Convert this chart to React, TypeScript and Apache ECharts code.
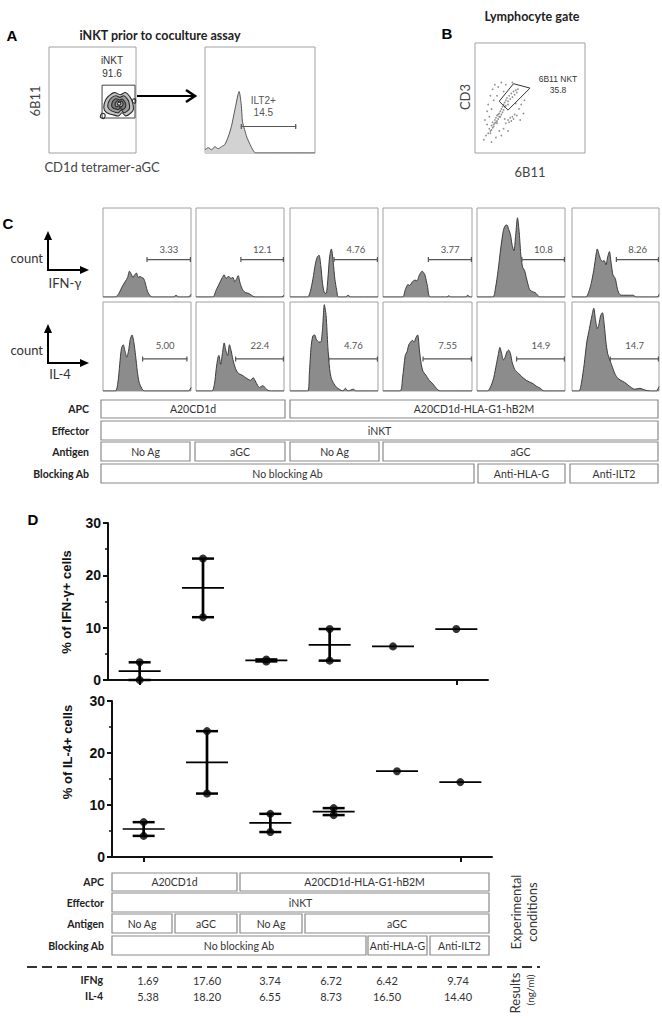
import React, { useEffect, useRef } from 'react';
import * as echarts from 'echarts';

// ===================== DATA =====================
// Panel D: replicate values (% positive cells) per condition
const conditions = [
  'A20CD1d / No Ag',
  'A20CD1d / aGC',
  'A20CD1d-HLA-G1-hB2M / No Ag',
  'A20CD1d-HLA-G1-hB2M / aGC',
  'A20CD1d-HLA-G1-hB2M / aGC / Anti-HLA-G',
  'A20CD1d-HLA-G1-hB2M / aGC / Anti-ILT2',
];
const ifnRep1: (number | null)[] = [3.38, 23.2, 3.55, 9.74, 6.42, 9.74];
const ifnRep2: (number | null)[] = [0.0, 12.0, 3.93, 3.7, null, null];
const il4Rep1: (number | null)[] = [6.7, 24.2, 8.3, 9.4, 16.5, 14.4];
const il4Rep2: (number | null)[] = [4.06, 12.2, 4.8, 8.06, null, null];
const yAxisMin = 0;
const yAxisMax = 30;
const yAxisStep = 10;

// Panel D results table
const ifngResults = ['1.69', '17.60', '3.74', '6.72', '6.42', '9.74'];
const il4Results = ['5.38', '18.20', '6.55', '8.73', '16.50', '14.40'];

// Condition tables (text, first column, last column)
const tableLabels = ['APC', 'Effector', 'Antigen', 'Blocking Ab'];
const apcCells: [string, number, number][] = [['A20CD1d', 0, 1], ['A20CD1d-HLA-G1-hB2M', 2, 5]];
const effectorCells: [string, number, number][] = [['iNKT', 0, 5]];
const antigenCells: [string, number, number][] = [['No Ag', 0, 0], ['aGC', 1, 1], ['No Ag', 2, 2], ['aGC', 3, 5]];
const blockingCells: [string, number, number][] = [['No blocking Ab', 0, 3], ['Anti-HLA-G', 4, 4], ['Anti-ILT2', 5, 5]];

// Panel C histograms: [x (% of range), y (% of max count)]
const ifnHist1 = [[0,0],[14,0],[18,4],[22,12],[25,17],[28,22],[30,29],[32,26],[34,22],[36,25],[38,27],[40,22],[42,23],[44,22],[46,21],[48,16],[50,8],[53,2],[56,0],[80,0],[83,2],[86,0],[97,0],[100,3]];
const ifnHist2 = [[0,0],[19,0],[23,8],[27,16],[30,22],[32,25],[34,21],[37,23],[40,21],[42,22],[44,17],[46,20],[48,24],[50,16],[53,8],[56,5],[60,4],[63,2],[67,0],[97,0],[100,2]];
const ifnHist3 = [[0,0],[20,0],[23,6],[26,20],[29,38],[31,45],[33,47],[35,35],[37,15],[39,5],[41,4],[43,20],[45,45],[47,54],[49,40],[51,20],[53,8],[55,0],[63,0],[66,2],[69,0],[100,0]];
const ifnHist4 = [[0,0],[22,0],[25,8],[28,14],[30,13],[33,17],[36,19],[38,18],[41,25],[44,29],[47,25],[50,12],[53,0],[72,0],[74,1.5],[76,0],[93,0],[95,2],[98,0],[100,0]];
const ifnHist5 = [[0,0],[18,0],[21,10],[24,30],[27,55],[30,75],[32,80],[34,81],[36,76],[38,70],[40,58],[42,52],[44,70],[46,89],[48,72],[50,45],[52,33],[54,30],[56,22],[58,14],[60,8],[63,6],[66,5],[69,2],[71,0],[100,0]];
const ifnHist6 = [[0,0],[16,0],[19,5],[22,15],[25,30],[28,50],[29,54],[31,48],[33,42],[35,40],[37,41],[39,36],[41,45],[43,51],[45,38],[47,25],[49,22],[50,20],[52,10],[54,4],[57,2],[62,2],[70,2],[74,0],[98,0],[100,3]];
const il4Hist1 = [[0,0],[14,0],[17,10],[19,30],[21,48],[23,52],[25,45],[27,38],[29,45],[31,58],[33,63],[35,55],[37,40],[39,22],[41,10],[44,3],[47,0],[97,0],[100,4]];
const il4Hist2 = [[0,0],[18,0],[21,8],[23,25],[25,38],[26,40],[28,30],[30,42],[32,54],[34,45],[36,40],[38,52],[40,45],[42,35],[45,25],[48,20],[52,18],[55,16],[58,14],[62,12],[65,15],[68,10],[72,4],[76,6],[80,2],[84,0],[100,0]];
const il4Hist3 = [[0,0],[20,0],[22,20],[24,50],[26,62],[28,63],[30,58],[33,55],[35,55],[37,70],[39,97],[41,85],[43,50],[45,25],[47,14],[50,8],[53,4],[56,2],[60,0],[63,3],[66,0],[72,2],[75,0],[100,0]];
const il4Hist4 = [[0,0],[19,0],[22,15],[25,40],[27,44],[29,52],[31,55],[33,57],[35,55],[37,60],[39,63],[41,45],[43,30],[45,22],[48,18],[52,12],[56,8],[60,3],[64,0],[100,0]];
const il4Hist5 = [[0,0],[12,0],[16,6],[19,15],[22,30],[24,40],[26,49],[28,42],[30,35],[32,38],[34,44],[36,46],[38,42],[40,32],[43,24],[47,20],[51,16],[56,12],[60,10],[64,8],[68,5],[72,3],[76,0],[100,0]];
const il4Hist6 = [[0,0],[8,0],[11,10],[14,30],[17,55],[20,70],[23,85],[25,93],[27,80],[29,70],[31,75],[33,85],[35,88],[37,75],[39,55],[41,42],[43,36],[46,28],[49,20],[52,15],[56,12],[60,10],[64,7],[68,4],[72,2],[78,3],[84,1],[90,0],[97,0],[100,5]];
const ifnGateLabels = ['3.33', '12.1', '4.76', '3.77', '10.8', '8.26'];
const il4GateLabels = ['5.00', '22.4', '4.76', '7.55', '14.9', '14.7'];
const ifnGateStart = [50, 51, 50, 51, 51, 51];
const ifnGateEnd = [100, 100, 100, 100, 100, 100];
const il4GateStart = [45, 45, 44, 45, 45, 44];
const il4GateEnd = [96, 100, 100, 100, 100, 100];
const ifnGateLevel = 42;
const il4GateLevel = 36;

// Panel A: ILT2 histogram and iNKT contour plot
const ilt2Hist = [[0,3],[3,5],[6,3],[9,6],[12,4],[15,6],[18,8],[21,15],[24,25],[26,35],[28,45],[30,55],[31,58],[33,45],[34,30],[36,22],[38,15],[41,8],[44,2],[46,0],[100,0]];
const ilt2Gate = { x1: 33, x2: 83, y: 25, label: 'ILT2+\n14.5' };
const inktGate = [61, 33, 100, 64];
const contourOuter = [[63,43],[65,50],[69,54],[75,57],[82,55],[88,57],[93,53],[96,48],[97,41],[93,37],[88,35],[84,38],[80,35],[74,36],[69,37],[65,39]];
const contourMid = [[67.5,44.5],[69,49],[72.5,52.5],[77,54],[81.5,52.5],[86,54],[90,51],[92,47.5],[92.5,42],[89,39],[86,38],[83,40.5],[80,38],[76,38.5],[72.5,39.5],[69,41.5]];
const contourInner = [[72,45],[73,48.5],[76,51],[78.5,51],[81,50],[84,51],[86.5,49],[88,46.5],[88,43.5],[86,41.5],[83.5,41],[82,43],[80,41],[77,41.5],[74.5,42],[72.5,43.5]];
const contourCore = [[76,45.5],[77,48],[79,49],[81,48],[83,49],[85,47],[84.5,44.5],[82.5,43.5],[80,44.5],[77.5,43.5]];
const contourPeak = [[78.5,46],[80,47.8],[82.5,47.2],[81.5,45.2]];
const contourOutlierA = [[59,34],[63,32.5],[64.5,36],[61,37.5]];
const contourOutlierB = [[96,48],[99,47],[99.5,50.5],[97,51]];

// Panel B: CD3 vs 6B11 events
const lymphEvents = [
  [12,18],[13,22],[14,20],[15,25],[16,23],[16,28],[17,26],[18,30],[18,27],[19,32],[20,29],[20,34],[21,31],[22,36],[22,33],
  [23,38],[24,35],[24,40],[25,42],[26,39],[26,44],[27,46],[28,43],[28,48],[29,50],[30,47],[31,52],[32,49],[33,54],[34,51],
  [35,56],[36,53],[37,57],[38,55],[39,58],[30,44],[25,37],[20,27],[17,24],[14,18],[15,21],[19,28],[21,35],[23,33],[27,42],
  [30,30],[32,32],[34,33],[31,28],[36,35],[28,27],[33,29],[35,31],[38,34],[27,31],
  [8,12],[10,16],[11,26],[13,33],[15,40],[16,58],[18,62],[21,60],[24,64],[20,52],[12,44],[9,30],[40,40],[42,44],[44,36],
  [22,20],[26,22],[24,16],[30,20],[19,14],[15,10],[28,62],[34,64],[17,48],[45,48],[14,52],[11,38],[37,45],[41,30],[26,56],
];
const nktGatePolygon = [[22,47],[35,63],[50,59],[30,39]];

// ===================== LAYOUT HELPERS =====================
const SANS = 'Lato';
const ARIAL = 'Liberation Sans';

function txt(x: number, y: number, text: string, o: any = {}) {
  return {
    type: 'text', x, y, rotation: o.rot || 0, silent: true,
    style: {
      text, fill: o.fill || '#333', fontSize: o.size || 12, fontFamily: o.family || SANS,
      fontWeight: o.weight || 'normal', align: o.align || 'center', verticalAlign: 'middle',
      lineHeight: o.lh || undefined,
    },
  };
}

function tableGraphics(colL: number[], colR: number[], rows: number[][], labelRight: number) {
  const out: any[] = [];
  const rowsCells = [apcCells, effectorCells, antigenCells, blockingCells];
  rowsCells.forEach((cells, r) => {
    const [y0, y1] = rows[r];
    out.push(txt(labelRight, (y0 + y1) / 2, tableLabels[r], { align: 'right', weight: 'bold', size: 10.5, fill: '#222' }));
    cells.forEach(([t, a, b]) => {
      out.push({
        type: 'rect', silent: true,
        shape: { x: colL[a], y: y0, width: colR[b] - colL[a], height: y1 - y0 },
        style: { fill: '#fff', stroke: '#8a8a8a', lineWidth: 1.2 },
      });
      out.push(txt((colL[a] + colR[b]) / 2, (y0 + y1) / 2, t, { size: 10.5, fill: '#333' }));
    });
  });
  return out;
}

function axisArrows(y0: number, label: string, labelX: number, labelY: number, countY: number) {
  return [
    { type: 'line', silent: true, shape: { x1: 48, y1: y0, x2: 48, y2: y0 - 32 }, style: { stroke: '#000', lineWidth: 2 } },
    { type: 'polygon', silent: true, shape: { points: [[44, y0 - 30], [48, y0 - 39], [52, y0 - 30]] }, style: { fill: '#000' } },
    { type: 'line', silent: true, shape: { x1: 47, y1: y0, x2: 82, y2: y0 }, style: { stroke: '#000', lineWidth: 2 } },
    { type: 'polygon', silent: true, shape: { points: [[80, y0 - 4], [89, y0], [80, y0 + 4]] }, style: { fill: '#000' } },
    txt(43, countY, 'count', { align: 'right', size: 13, fill: '#333' }),
    txt(labelX, labelY, label, { size: 13, fill: '#333' }),
  ];
}

function buildOption() {
  const grid: any[] = [];
  const xAxis: any[] = [];
  const yAxis: any[] = [];
  const series: any[] = [];

  const addBox = (left: number, top: number, width: number, height: number) => {
    const i = grid.length;
    grid.push({
      left, top, width, height, show: true, borderColor: '#a0a0a0', borderWidth: 1,
      backgroundColor: 'transparent', containLabel: false, outerBoundsMode: 'none',
    });
    xAxis.push({ type: 'value', gridIndex: i, min: 0, max: 100, show: false });
    yAxis.push({ type: 'value', gridIndex: i, min: 0, max: 100, show: false });
    return i;
  };

  const histSeries = (i: number, data: number[][], fill: string, stroke: string) => ({
    type: 'line', xAxisIndex: i, yAxisIndex: i, data, symbol: 'none', showSymbol: false,
    smooth: 0.25, silent: true, lineStyle: { color: stroke, width: 1 }, areaStyle: { color: fill, opacity: 1 },
  });

  const gateSeries = (i: number, g: { x1: number; x2: number; y: number; label: string }, dy: number, labelX?: number, fontSize = 9.5) => ({
    type: 'custom', xAxisIndex: i, yAxisIndex: i, silent: true, z: 4,
    data: [[g.x1, g.x2, g.y]],
    renderItem: (params: any, api: any) => {
      const p1 = api.coord([api.value(0), api.value(2)]);
      const p2 = api.coord([api.value(1), api.value(2)]);
      const c = '#555';
      const lx = labelX !== undefined ? api.coord([labelX, 0])[0] : (p1[0] + p2[0]) / 2;
      return {
        type: 'group',
        children: [
          { type: 'line', shape: { x1: p1[0], y1: p1[1], x2: p2[0], y2: p2[1] }, style: { stroke: c, lineWidth: 1.2 } },
          { type: 'line', shape: { x1: p1[0], y1: p1[1] - 2.5, x2: p1[0], y2: p1[1] + 2.5 }, style: { stroke: c, lineWidth: 1.2 } },
          { type: 'line', shape: { x1: p2[0] - 0.6, y1: p2[1] - 2.5, x2: p2[0] - 0.6, y2: p2[1] + 2.5 }, style: { stroke: c, lineWidth: 1.2 } },
          {
            type: 'text', x: lx, y: p1[1] - dy,
            style: { text: g.label, fill: '#555', fontSize, fontFamily: labelX !== undefined ? ARIAL : SANS, align: 'center', verticalAlign: 'middle', lineHeight: 12 },
          },
        ],
      };
    },
  });

  // ---------- Panel A ----------
  const a1 = addBox(49, 47, 87, 106);
  series.push({
    type: 'custom', xAxisIndex: a1, yAxisIndex: a1, silent: true, z: 2,
    data: [[inktGate[0], inktGate[1], inktGate[2], inktGate[3]]],
    renderItem: (params: any, api: any) => {
      const tl = api.coord([api.value(0), api.value(3)]);
      const br = api.coord([api.value(2), api.value(1)]);
      return { type: 'rect', shape: { x: tl[0], y: tl[1], width: br[0] - tl[0] - 1, height: br[1] - tl[1] }, style: { fill: 'none', stroke: '#444', lineWidth: 1 } };
    },
  });
  const rings = [contourOuter, contourMid, contourInner, contourCore, contourPeak, contourOutlierA, contourOutlierB];
  const ringFills = ['#c4c4c4', '#9c9c9c', '#7a7a7a', '#a8a8a8', '#e6e6e6', 'none', 'none'];
  series.push({
    type: 'custom', xAxisIndex: a1, yAxisIndex: a1, silent: true, z: 3,
    data: rings.map((r) => r[0]),
    renderItem: (params: any, api: any) => {
      const ring = rings[params.dataIndex];
      return {
        type: 'polygon',
        shape: { points: ring.map((p) => api.coord(p)), smooth: 0.35 },
        style: { fill: ringFills[params.dataIndex], stroke: '#2a2a2a', lineWidth: 1.1 },
      };
    },
  });
  const a2 = addBox(205, 47, 110, 106);
  series.push(histSeries(a2, ilt2Hist, '#d2d2d2', '#555'));
  series.push(gateSeries(a2, ilt2Gate, 20, 53, 10));

  // ---------- Panel B ----------
  const b1 = addBox(475, 43, 110, 110);
  series.push({
    type: 'scatter', xAxisIndex: b1, yAxisIndex: b1, silent: true, data: lymphEvents,
    symbolSize: 1.7, itemStyle: { color: '#6a6a6a', opacity: 0.75 },
  });
  series.push({
    type: 'custom', xAxisIndex: b1, yAxisIndex: b1, silent: true, z: 3,
    data: [nktGatePolygon[0]],
    renderItem: (params: any, api: any) => ({
      type: 'polygon', shape: { points: nktGatePolygon.map((p) => api.coord(p)) },
      style: { fill: 'none', stroke: '#333', lineWidth: 1 },
    }),
  });

  // ---------- Panel C ----------
  const colLeft = [103, 196, 290, 383, 477, 572];
  const colWidth = [88, 88, 88, 89, 88, 87];
  const ifnHists = [ifnHist1, ifnHist2, ifnHist3, ifnHist4, ifnHist5, ifnHist6];
  const il4Hists = [il4Hist1, il4Hist2, il4Hist3, il4Hist4, il4Hist5, il4Hist6];
  for (let c = 0; c < 6; c++) {
    const i1 = addBox(colLeft[c], 208, colWidth[c], 89);
    series.push(histSeries(i1, ifnHists[c], '#8c8c8c', '#3c3c3c'));
    series.push(gateSeries(i1, { x1: ifnGateStart[c], x2: ifnGateEnd[c], y: ifnGateLevel, label: ifnGateLabels[c] }, 10));
    const i2 = addBox(colLeft[c], 302, colWidth[c], 89);
    series.push(histSeries(i2, il4Hists[c], '#8c8c8c', '#3c3c3c'));
    series.push(gateSeries(i2, { x1: il4GateStart[c], x2: il4GateEnd[c], y: il4GateLevel, label: il4GateLabels[c] }, 13));
  }

  // ---------- Panel D ----------
  const dPanels = [
    { rep1: ifnRep1, rep2: ifnRep2, left: 108, top: 523, height: 157 },
    { rep1: il4Rep1, rep2: il4Rep2, left: 112, top: 701, height: 156 },
  ];
  dPanels.forEach((p) => {
    const gi = grid.length;
    grid.push({ left: p.left, top: p.top, width: 380, height: p.height, show: false, containLabel: false, outerBoundsMode: 'none' });
    xAxis.push({
      type: 'category', gridIndex: gi, data: conditions, boundaryGap: true,
      axisLine: { show: true, lineStyle: { color: '#111', width: 2 } },
      axisTick: { show: true, alignWithLabel: true, length: 5, lineStyle: { color: '#111', width: 2 } },
      axisLabel: { show: false }, splitLine: { show: false },
    });
    yAxis.push({
      type: 'value', gridIndex: gi, min: yAxisMin, max: yAxisMax, interval: yAxisStep,
      axisLine: { show: true, lineStyle: { color: '#111', width: 2 } },
      axisTick: { show: true, length: 5, lineStyle: { color: '#111', width: 2 } },
      minorTick: { show: true, splitNumber: 2, length: 3, lineStyle: { color: '#111', width: 1.5 } },
      axisLabel: { fontSize: 14, fontWeight: 'bold', fontFamily: ARIAL, color: '#111', margin: 7 },
      splitLine: { show: false },
    });
    const bars = conditions.map((_, k) => {
      const vals = [p.rep1[k], p.rep2[k]].filter((v) => v !== null) as number[];
      const mean = vals.reduce((s, v) => s + v, 0) / vals.length;
      return [k, Math.min(...vals), Math.max(...vals), mean];
    });
    series.push({
      type: 'custom', xAxisIndex: gi, yAxisIndex: gi, silent: true, z: 2, data: bars,
      encode: { x: 0, y: [1, 2] },
      renderItem: (params: any, api: any) => {
        const k = api.value(0);
        const lo = api.value(1);
        const hi = api.value(2);
        const m = api.value(3);
        const pl = api.coord([k, lo]);
        const ph = api.coord([k, hi]);
        const pm = api.coord([k, m]);
        const cx = pl[0];
        const kids: any[] = [
          { type: 'line', shape: { x1: cx - 21, y1: pm[1], x2: cx + 21, y2: pm[1] }, style: { stroke: '#000', lineWidth: 1.7 } },
        ];
        if (hi - lo > 0.01) {
          kids.push({ type: 'line', shape: { x1: cx, y1: ph[1], x2: cx, y2: pl[1] }, style: { stroke: '#000', lineWidth: 2.7 } });
          kids.push({ type: 'line', shape: { x1: cx - 11, y1: ph[1], x2: cx + 11, y2: ph[1] }, style: { stroke: '#000', lineWidth: 2.5 } });
          kids.push({ type: 'line', shape: { x1: cx - 11, y1: pl[1], x2: cx + 11, y2: pl[1] }, style: { stroke: '#000', lineWidth: 2.5 } });
        }
        return { type: 'group', children: kids };
      },
    });
    const pts: number[][] = [];
    conditions.forEach((_, k) => {
      if (p.rep1[k] !== null) pts.push([k, p.rep1[k] as number]);
      if (p.rep2[k] !== null) pts.push([k, p.rep2[k] as number]);
    });
    series.push({
      type: 'scatter', xAxisIndex: gi, yAxisIndex: gi, silent: true, z: 3, clip: false,
      data: pts, symbol: 'circle', symbolSize: 8, itemStyle: { color: '#000' },
    });
  });

  // ---------- Graphic (labels, tables, arrows) ----------
  const g: any[] = [];
  g.push(txt(12, 35, 'A', { family: ARIAL, weight: 'bold', size: 15, fill: '#000' }));
  g.push(txt(447, 33, 'B', { family: ARIAL, weight: 'bold', size: 15, fill: '#000' }));
  g.push(txt(8, 223, 'C', { family: ARIAL, weight: 'bold', size: 15, fill: '#000' }));
  g.push(txt(33, 519, 'D', { family: ARIAL, weight: 'bold', size: 15, fill: '#000' }));
  g.push(txt(160, 35, 'iNKT prior to coculture assay', { weight: 'bold', size: 12.5, fill: '#222' }));
  g.push(txt(532, 16, 'Lymphocyte gate', { weight: 'bold', size: 12.5, fill: '#222' }));
  g.push(txt(35, 101, '6B11', { size: 13, fill: '#444', rot: Math.PI / 2 }));
  g.push(txt(102, 167, 'CD1d tetramer-aGC', { size: 13, fill: '#444' }));
  g.push(txt(465, 97, 'CD3', { size: 13, fill: '#444', rot: Math.PI / 2 }));
  g.push(txt(530, 172, '6B11', { size: 13, fill: '#444' }));
  g.push(txt(112, 60, 'iNKT', { family: ARIAL, size: 10, fill: '#333' }));
  g.push(txt(112, 73, '91.6', { family: ARIAL, size: 10, fill: '#333' }));
  g.push(txt(558, 79, '6B11 NKT', { family: ARIAL, size: 8.5, fill: '#333' }));
  g.push(txt(558, 90, '35.8', { family: ARIAL, size: 8.5, fill: '#333' }));
  g.push({ type: 'polyline', silent: true, shape: { points: [[137, 96], [194, 96]] }, style: { stroke: '#000', lineWidth: 2 } });
  g.push({ type: 'polyline', silent: true, shape: { points: [[186, 90], [195, 96], [186, 102]] }, style: { stroke: '#000', lineWidth: 2.5, fill: 'none' } });

  g.push(...axisArrows(270, 'IFN-γ', 65, 283, 258));
  g.push(...axisArrows(363, 'IL-4', 60, 374, 350));

  g.push(...tableGraphics([101, 195, 290, 383, 478, 570], [190, 285, 379, 474, 565, 658], [[400, 418], [421, 440], [442, 461], [464, 483]], 89));
  g.push(...tableGraphics([112, 175, 240, 305, 368, 430], [172, 237, 302, 366, 427, 489], [[873, 891], [893, 912], [914, 933], [936, 955]], 104));

  g.push(txt(66, 602, '% of IFN-γ+ cells', { family: ARIAL, weight: 'bold', size: 13, fill: '#111', rot: Math.PI / 2 }));
  g.push(txt(67, 752, '% of IL-4+ cells', { family: ARIAL, weight: 'bold', size: 13, fill: '#111', rot: Math.PI / 2 }));

  g.push({ type: 'line', silent: true, shape: { x1: 27, y1: 967, x2: 540, y2: 967 }, style: { stroke: '#333', lineWidth: 2, lineDash: [10, 5] } });
  g.push(txt(516, 912, 'Experimental', { size: 13, fill: '#333', rot: Math.PI / 2 }));
  g.push(txt(532, 912, 'conditions', { size: 13, fill: '#333', rot: Math.PI / 2 }));
  g.push(txt(515, 993, 'Results', { size: 13, fill: '#333', rot: Math.PI / 2 }));
  g.push(txt(530, 990, '(ng/ml)', { size: 10, fill: '#333', rot: Math.PI / 2 }));

  const resultX = [148, 207, 270, 331, 387, 458];
  g.push(txt(103, 980, 'IFNg', { align: 'right', weight: 'bold', size: 10.5, fill: '#222' }));
  g.push(txt(103, 996, 'IL-4', { align: 'right', weight: 'bold', size: 10.5, fill: '#222' }));
  ifngResults.forEach((v, k) => g.push(txt(resultX[k], 980, v, { size: 11, fill: '#333' })));
  il4Results.forEach((v, k) => g.push(txt(resultX[k], 996, v, { size: 11, fill: '#333' })));

  return {
    animation: false,
    backgroundColor: '#fff',
    grid, xAxis, yAxis, series,
    graphic: { elements: g },
  };
}

export default function App() {
  const ref = useRef<HTMLDivElement>(null);
  useEffect(() => {
    const chart = echarts.init(ref.current as HTMLDivElement, null, { renderer: 'svg' });
    chart.setOption(buildOption() as any);
    return () => chart.dispose();
  }, []);
  return (
    <div
      ref={ref}
      style={{ position: 'absolute', left: 0, top: 0, width: 662, height: 1019, background: '#fff' }}
    />
  );
}
